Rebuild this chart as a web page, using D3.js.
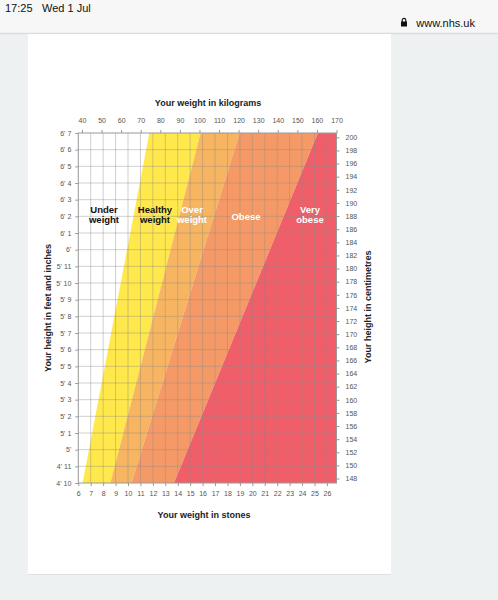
<!DOCTYPE html>
<html>
<head>
<meta charset="utf-8">
<script src="https://cdn.jsdelivr.net/npm/d3@7"></script>
<style>
  body { margin: 0; background: #eef1f2; font-family: "Liberation Sans", Arial, sans-serif; }
  svg text { font-family: "Liberation Sans", Arial, sans-serif; }
</style>
</head>
<body>
<div id="chart"></div>
<script>
// axis ticks
const kgTicks = [40, 50, 60, 70, 80, 90, 100, 110, 120, 130, 140, 150, 160, 170];
const stoneTicks = [6, 7, 8, 9, 10, 11, 12, 13, 14, 15, 16, 17, 18, 19, 20, 21, 22, 23, 24, 25, 26];
const inchTicks = [58, 59, 60, 61, 62, 63, 64, 65, 66, 67, 68, 69, 70, 71, 72, 73, 74, 75, 76, 77, 78, 79];
const heightLabels = ["4' 10", "4' 11", "5'", "5' 1", "5' 2", "5' 3", "5' 4", "5' 5", "5' 6", "5' 7", "5' 8",
  "5' 9", "5' 10", "5' 11", "6'", "6' 1", "6' 2", "6' 3", "6' 4", "6' 5", "6' 6", "6' 7"];
const cmTicks = [148, 150, 152, 154, 156, 158, 160, 162, 164, 166, 168, 170, 172, 174, 176, 178, 180,
  182, 184, 186, 188, 190, 192, 194, 196, 198, 200];

// weight bands: boundary weight (kg) at 4'10" and at 6'7"
const bandNames = ["Under weight", "Healthy weight", "Over weight", "Obese", "Very obese"];
const bandColors = ["#ffffff", "#ffe84b", "#f7b562", "#f59a66", "#ef5e69"];
const bandLowKg = [38.1, 40.3, 54.5, 65.3, 87.0];
const bandHighKg = [38.1, 74.4, 100.6, 120.5, 160.5];

const W = 498, H = 600;
const svg = d3.select("#chart").append("svg").attr("width", W).attr("height", H);

// page chrome
svg.append("rect").attr("width", W).attr("height", H).attr("fill", "#eef1f2");
svg.append("rect").attr("width", W).attr("height", 33).attr("fill", "#f7f7f7");
svg.append("line").attr("x1", 0).attr("x2", W).attr("y1", 33.5).attr("y2", 33.5)
  .attr("stroke", "#dcdcdc").attr("stroke-width", 1.5);
svg.append("text").attr("x", 5).attr("y", 12).attr("font-size", 11).attr("fill", "#111")
  .text("17:25");
svg.append("text").attr("x", 42).attr("y", 12).attr("font-size", 11).attr("fill", "#111")
  .text("Wed 1 Jul");
svg.append("text").attr("x", 475).attr("y", 27).attr("font-size", 11).attr("fill", "#111")
  .attr("text-anchor", "end").text("www.nhs.uk");
// padlock
svg.append("rect").attr("x", 401).attr("y", 21.5).attr("width", 6).attr("height", 5).attr("fill", "#111");
svg.append("path").attr("d", "M402.2,22 v-1.8 a1.8,1.8 0 0 1 3.6,0 v1.8")
  .attr("fill", "none").attr("stroke", "#111").attr("stroke-width", 1.1);

svg.append("rect").attr("x", 28).attr("y", 34).attr("width", 363).attr("height", 540).attr("fill", "#fff");
svg.append("line").attr("x1", 28).attr("x2", 391).attr("y1", 574.5).attr("y2", 574.5)
  .attr("stroke", "#dde1e4").attr("stroke-width", 1);

// scales
const stoneKg = 6.35029;
const x = d3.scaleLinear().domain([40, 170]).range([82, 336.5]);
const y = d3.scaleLinear().domain([58, 79]).range([483, 133]);
const xs = d3.scaleLinear().domain([0, 1]).range([x(0), x(stoneKg)]);
const ycm = d3.scaleLinear().domain([0, 2.54 * 10]).range([y(0), y(10)]);

const xL = x(6 * stoneKg), xR = x(170), yT = y(79), yB = y(58);

const g = svg.append("g");

// bands
bandNames.forEach((name, i) => {
  const next = i + 1 < bandNames.length;
  const pts = [
    [x(bandLowKg[i]), yB], [x(bandHighKg[i]), yT],
    [next ? x(bandHighKg[i + 1]) : xR, yT],
    [next ? x(bandLowKg[i + 1]) : xR, yB]
  ];
  g.append("polygon")
    .attr("points", pts.map(p => p.join(",")).join(" "))
    .attr("fill", bandColors[i]);
});

// grid
g.selectAll(".vgrid").data(stoneTicks.slice(1)).enter().append("line")
  .attr("x1", d => xs(d)).attr("x2", d => xs(d)).attr("y1", yT).attr("y2", yB)
  .attr("stroke", "#8a8a8a").attr("stroke-opacity", 0.4).attr("stroke-width", 1);
g.selectAll(".hgrid").data(inchTicks.slice(1, -1)).enter().append("line")
  .attr("x1", xL).attr("x2", xR).attr("y1", d => y(d)).attr("y2", d => y(d))
  .attr("stroke", "#8a8a8a").attr("stroke-opacity", 0.4).attr("stroke-width", 1);

// axes
const axisStyle = sel => {
  sel.select(".domain").remove();
  sel.selectAll("line").attr("stroke", "#999");
  sel.selectAll("text").attr("font-size", 7).attr("fill", "#555");
};

svg.append("g").attr("transform", `translate(0,${yT})`)
  .call(d3.axisTop(x).tickValues(kgTicks).tickSize(3).tickPadding(7))
  .call(axisStyle);
svg.append("g").attr("transform", `translate(0,${yB})`)
  .call(d3.axisBottom(xs).tickValues(stoneTicks).tickFormat(d3.format("d")).tickSize(3).tickPadding(5))
  .call(axisStyle);
svg.append("g").attr("transform", `translate(${xL},0)`)
  .call(d3.axisLeft(y).tickValues(inchTicks).tickFormat((d, i) => heightLabels[i]).tickSize(3).tickPadding(4))
  .call(axisStyle);
svg.append("g").attr("transform", `translate(${xR},0)`)
  .call(d3.axisRight(ycm).tickValues(cmTicks).tickSize(3).tickPadding(6))
  .call(axisStyle);

// frame
svg.append("rect").attr("x", xL).attr("y", yT).attr("width", xR - xL).attr("height", yB - yT)
  .attr("fill", "none").attr("stroke", "#9a9a9a").attr("stroke-width", 1);

// titles
svg.append("text").attr("x", 208).attr("y", 106).attr("text-anchor", "middle")
  .attr("font-size", 9).attr("font-weight", "bold").attr("fill", "#222")
  .text("Your weight in kilograms");
svg.append("text").attr("x", 204).attr("y", 518).attr("text-anchor", "middle")
  .attr("font-size", 9).attr("font-weight", "bold").attr("fill", "#222")
  .text("Your weight in stones");
svg.append("text").attr("transform", "translate(51,308) rotate(-90)").attr("text-anchor", "middle")
  .attr("font-size", 9).attr("font-weight", "bold").attr("fill", "#222")
  .text("Your height in feet and inches");
svg.append("text").attr("transform", "translate(371,307) rotate(-90)").attr("text-anchor", "middle")
  .attr("font-size", 9).attr("font-weight", "bold").attr("fill", "#222")
  .text("Your height in centimetres");

// band labels
const labelPos = [[104, 215], [155, 215], [192, 215], [246, 220], [310, 215]];
const labelFill = ["#111", "#111", "#fff", "#fff", "#fff"];
bandNames.forEach((name, i) => {
  const words = name.split(" ");
  const t = svg.append("text").attr("x", labelPos[i][0]).attr("y", labelPos[i][1])
    .attr("text-anchor", "middle").attr("font-size", 9.5).attr("font-weight", "bold")
    .attr("fill", labelFill[i]);
  if (words.length === 1) {
    t.text(words[0]);
  } else {
    words.forEach((w, j) => t.append("tspan").attr("x", labelPos[i][0]).attr("dy", j ? 10 : -2).text(w));
  }
});
</script>
</body>
</html>
